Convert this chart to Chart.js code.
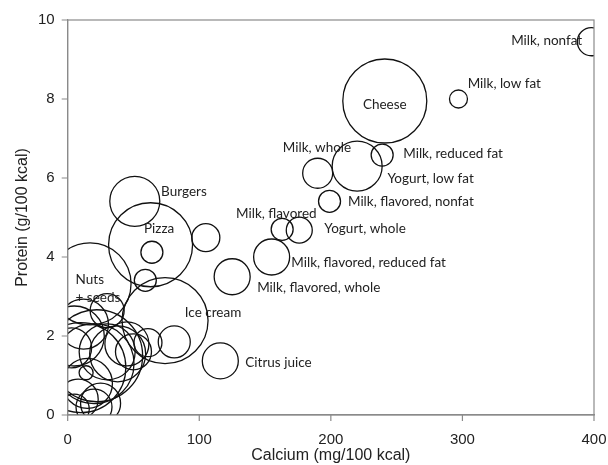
<!DOCTYPE html>
<html>
<head>
<meta charset="utf-8">
<script src="https://cdn.jsdelivr.net/npm/chart.js@4.4.0/dist/chart.umd.min.js"></script>
<style>
  html, body { margin: 0; padding: 0; background: #fff; }
  #wrap { width: 608px; height: 465px; }
</style>
</head>
<body>
<div id="wrap"><canvas id="myChart"></canvas></div>
<script>
// foods: calcium (mg/100 kcal), protein (g/100 kcal), bubble size
var foods = [
  "Milk, nonfat", "Milk, low fat", "Cheese", "Milk, reduced fat", "Yogurt, low fat",
  "Milk, whole", "Milk, flavored, nonfat", "Milk, flavored", "Yogurt, whole",
  "Milk, flavored, reduced fat", "Milk, flavored, whole", "Burgers", "Pizza", "",
  "", "Nuts + seeds", "", "Ice cream", "", "", "Citrus juice",
  "", "", "", "", "", "", "", "", "", "", "", "", "", "", "", "", ""
];
var calcium = [
  398, 297, 241, 239, 220,
  190, 199, 163, 176,
  155, 125, 51, 63, 64,
  105, 17, 59, 74, 81, 61, 116,
  10, 20, 5, 30, 38, 15, 8, 30, 14, 45, 3, 20, 50, 12, 22, 5, 25
];
var protein = [
  9.45, 8.0, 7.95, 6.58, 6.3,
  6.12, 5.41, 4.7, 4.68,
  4.0, 3.5, 5.41, 4.31, 4.12,
  4.49, 3.32, 3.41, 2.39, 1.85, 1.83, 1.37,
  1.2, 1.3, 2.0, 1.6, 1.55, 0.8, 0.4, 2.64, 1.07, 1.8, 1.7, 0.2, 1.6, 2.3, 1.5, 0.15, 0.3
];
var sizes = [
  14, 9, 42, 11, 25,
  15, 11, 11, 13,
  18, 18, 25, 42, 11,
  14, 41, 11, 43, 16, 14, 18,
  45, 40, 30, 28, 28, 25, 20, 17, 7, 22, 20, 18, 18, 25, 46, 15, 20
];

// text labels placed in data units
var labelText = [
  "Milk, nonfat", "Milk, low fat", "Cheese", "Milk, whole", "Milk, reduced fat",
  "Yogurt, low fat", "Milk, flavored, nonfat", "Milk, flavored", "Yogurt, whole",
  "Milk, flavored, reduced fat", "Milk, flavored, whole", "Burgers", "Pizza",
  "Nuts", "+ seeds", "Ice cream", "Citrus juice"
];
var labelCal = [391, 304, 241, 163.5, 255, 243, 213, 128, 195, 170, 144, 71, 58, 6, 6, 89, 135];
var labelProt = [9.47, 8.38, 7.86, 6.78, 6.62, 5.99, 5.41, 5.1, 4.72, 3.86, 3.22, 5.66, 4.72, 3.43, 2.97, 2.59, 1.32];
var labelAlign = ["right", "left", "center", "left", "left", "left", "left", "left", "left",
  "left", "left", "left", "left", "left", "left", "left", "left"];

var axisGray = "#8a8a8a";
var tickFont = { family: "'Liberation Sans', Arial", size: 15, lineHeight: 1 };
var titleFont = { family: "'Liberation Sans', Arial", size: 16, lineHeight: 1 };

var points = [];
for (var i = 0; i < calcium.length; i++) {
  points.push({ x: calcium[i], y: protein[i], r: sizes[i], name: foods[i] });
}

var labelPlugin = {
  id: "foodLabels",
  afterDatasetsDraw: function (chart) {
    var ctx = chart.ctx;
    var xs = chart.scales.x;
    var ys = chart.scales.y;
    var a = chart.chartArea;
    ctx.save();
    ctx.font = "13.5px Lato, 'Open Sans', sans-serif";
    ctx.fillStyle = "#222";
    ctx.textBaseline = "middle";
    for (var i = 0; i < labelText.length; i++) {
      ctx.textAlign = labelAlign[i];
      ctx.fillText(labelText[i], xs.getPixelForValue(labelCal[i]), ys.getPixelForValue(labelProt[i]));
    }
    // box round the plot + short outward tick marks
    ctx.strokeStyle = axisGray;
    ctx.lineWidth = 1.2;
    ctx.strokeRect(a.left, a.top, a.right - a.left, a.bottom - a.top);
    ctx.beginPath();
    xs.ticks.forEach(function (t) {
      var px = xs.getPixelForValue(t.value);
      ctx.moveTo(px, a.bottom);
      ctx.lineTo(px, a.bottom + 6);
    });
    ys.ticks.forEach(function (t) {
      var py = ys.getPixelForValue(t.value);
      ctx.moveTo(a.left - 6, py);
      ctx.lineTo(a.left, py);
    });
    ctx.stroke();
    ctx.restore();
  }
};

new Chart(document.getElementById("myChart").getContext("2d"), {
  type: "bubble",
  data: {
    datasets: [
      {
        data: points,
        backgroundColor: "rgba(0,0,0,0)",
        borderColor: "#111",
        borderWidth: 1.3,
        hoverRadius: 0,
      },
    ],
  },
  options: {
    responsive: true,
    maintainAspectRatio: false,
    animation: false,
    layout: { autoPadding: false, padding: { top: 20, right: 14, left: 15, bottom: 1 } },
    plugins: { legend: { display: false }, tooltip: { enabled: false } },
    scales: {
      x: {
        min: 0,
        max: 400,
        ticks: { stepSize: 100, color: "#222", font: tickFont, padding: 0 },
        grid: { display: true, drawOnChartArea: false, drawTicks: true, tickLength: 17, tickColor: "rgba(0,0,0,0)" },
        border: { color: axisGray, width: 1.2 },
        title: { display: true, text: "Calcium (mg/100 kcal)", color: "#222", font: titleFont, padding: { top: 1, bottom: 0 } },
      },
      y: {
        min: 0,
        max: 10,
        ticks: { stepSize: 2, color: "#222", font: tickFont, padding: 0 },
        grid: { display: true, drawOnChartArea: false, drawTicks: true, tickLength: 13, tickColor: "rgba(0,0,0,0)" },
        border: { color: axisGray, width: 1.2 },
        title: { display: true, text: "Protein (g/100 kcal)", color: "#222", font: titleFont, padding: { top: 0, bottom: 7 } },
      },
    },
  },
  plugins: [labelPlugin],
});
</script>
</body>
</html>
